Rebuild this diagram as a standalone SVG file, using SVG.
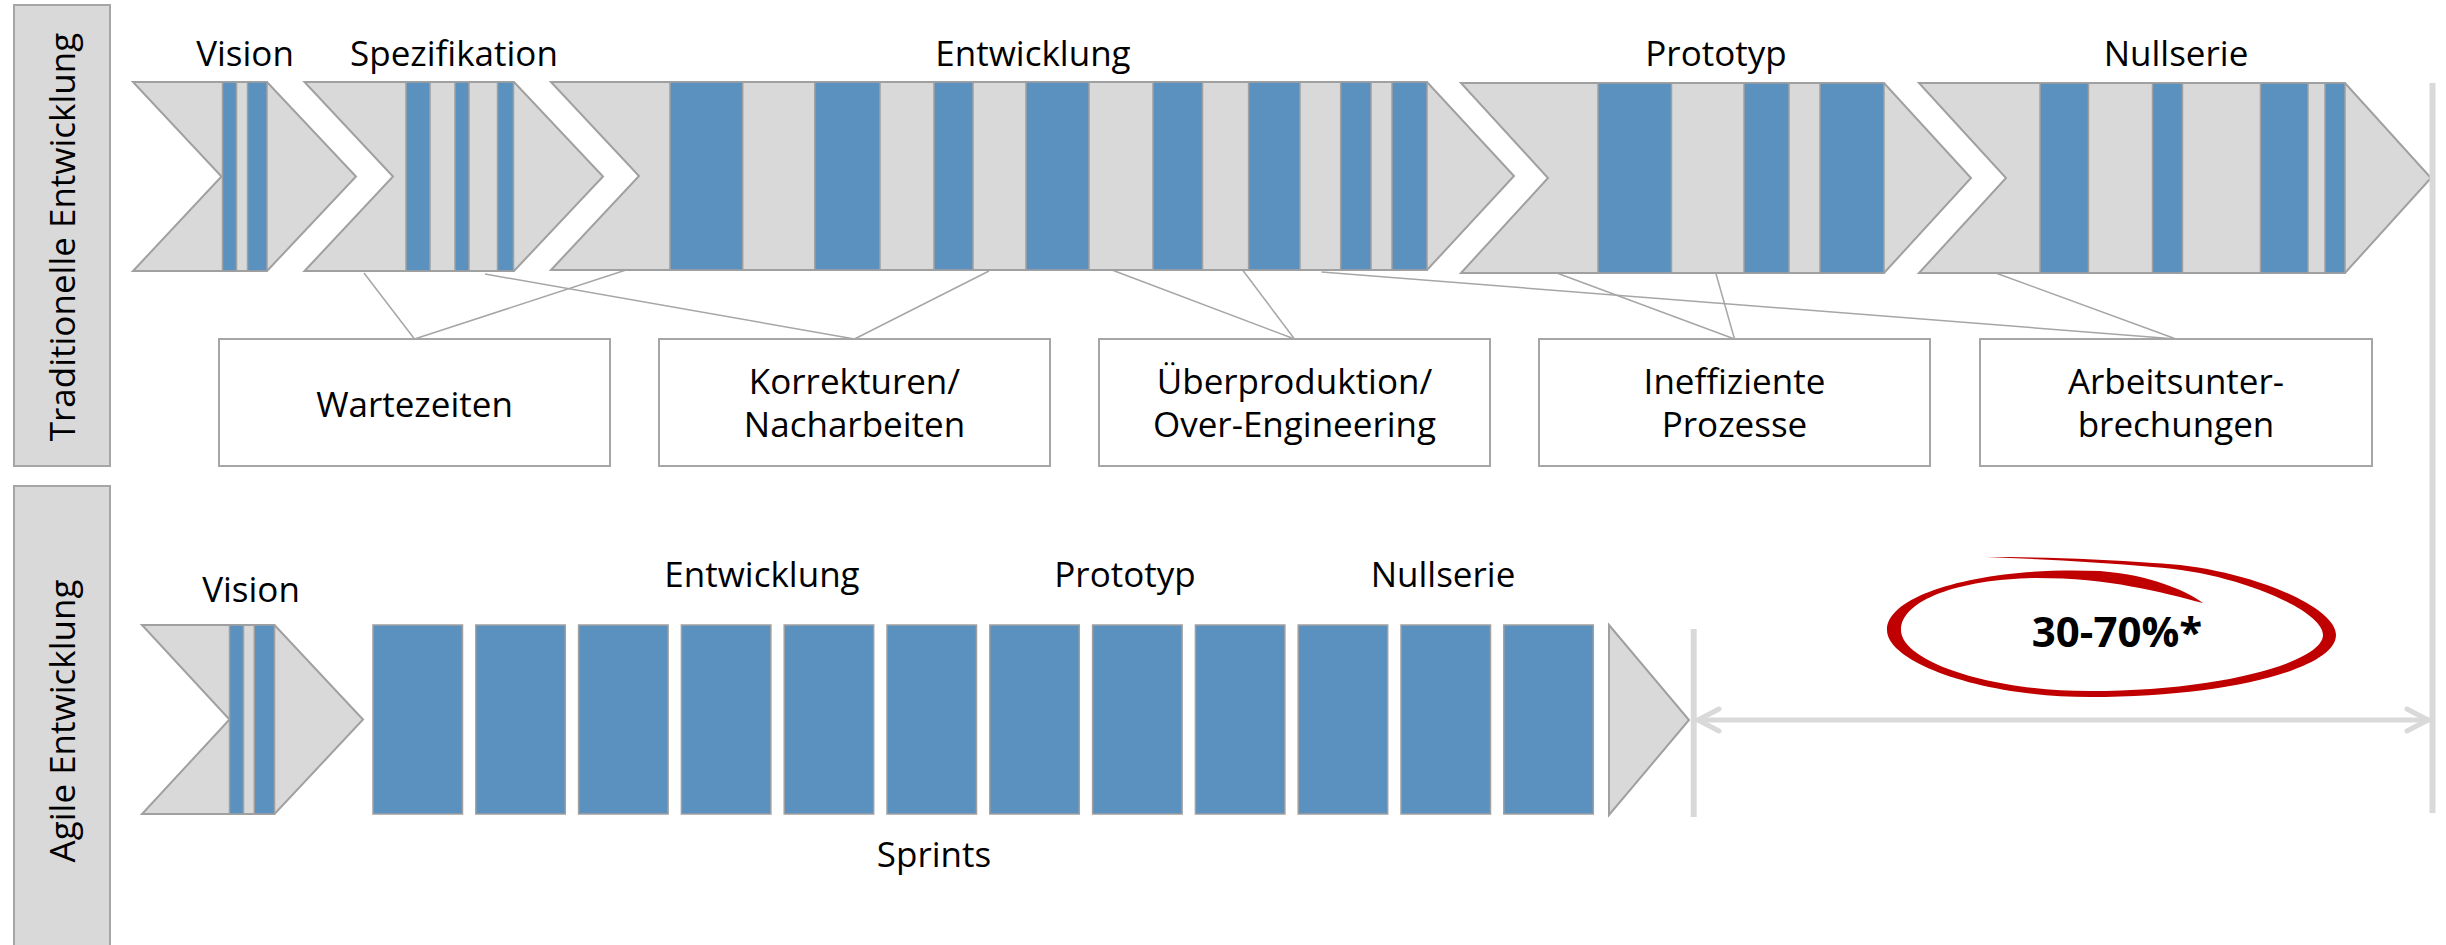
<svg xmlns="http://www.w3.org/2000/svg" width="2446" height="945" viewBox="0 0 2446 945">
<defs>
<style>
.lbl{fill:#d9d9d9;stroke:#a6a6a6;stroke-width:2}
.chev{fill:#d9d9d9;stroke:#a0a0a0;stroke-width:2;stroke-linejoin:miter}
.st{fill:#5b91be;stroke:#a0a0a0;stroke-width:1.5}
.box{fill:#ffffff;stroke:#a6a6a6;stroke-width:2}
.t{font-family:"Open Sans","Segoe UI","Liberation Sans",sans-serif;font-size:35px;fill:#000;text-anchor:middle}
.con{stroke:#a6a6a6;stroke-width:1.5;fill:none}
.vl{stroke:#d9d9d9;stroke-width:6;fill:none}
</style>
<marker id="ah" viewBox="-26 -15 32 30" markerWidth="32" markerHeight="30" refX="0" refY="0" orient="auto-start-reverse" markerUnits="userSpaceOnUse">
<path d="M -21,-11 L 0,0 L -21,11" fill="none" stroke="#d9d9d9" stroke-width="5" stroke-linecap="round" stroke-linejoin="round"/>
</marker>
</defs>

<g id="label-traditionell">
<rect class="lbl" x="14" y="5" width="96" height="461"/>
<text class="t" transform="translate(75,237) rotate(-90)">Traditionelle Entwicklung</text>
</g>
<g id="label-agil">
<rect class="lbl" x="14" y="486" width="96" height="470"/>
<text class="t" transform="translate(75,721) rotate(-90)">Agile Entwicklung</text>
</g>

<g id="connectors">
<line class="con" x1="364" y1="273" x2="414.5" y2="339"/>
<line class="con" x1="626" y1="270" x2="414.5" y2="339"/>
<line class="con" x1="485" y1="274" x2="854.5" y2="339"/>
<line class="con" x1="989" y1="271" x2="854.5" y2="339"/>
<line class="con" x1="1112" y1="270" x2="1294.5" y2="339"/>
<line class="con" x1="1242.6" y1="270" x2="1294.5" y2="339"/>
<line class="con" x1="1321.5" y1="272" x2="2176" y2="339"/>
<line class="con" x1="1556.8" y1="273" x2="1734.5" y2="339"/>
<line class="con" x1="1715.5" y1="272" x2="1734.5" y2="339"/>
<line class="con" x1="1995.7" y1="273" x2="2176" y2="339"/>
</g>

<g id="t-vision">
<polygon class="chev" points="133,82 267,82 356,176.5 267,271 133,271 221.5,176.5"/>
<rect class="st" x="222.5" y="82" width="14" height="189"/>
<rect class="st" x="247.5" y="82" width="19.5" height="189"/>
<text class="t" x="245" y="66">Vision</text>
</g>
<g id="t-spezifikation">
<polygon class="chev" points="304.5,82 514,82 603,176.5 514,271 304.5,271 393,176.5"/>
<rect class="st" x="406" y="82" width="24" height="189"/>
<rect class="st" x="455" y="82" width="14" height="189"/>
<rect class="st" x="497.5" y="82" width="16" height="189"/>
<text class="t" x="454" y="66">Spezifikation</text>
</g>
<g id="t-entwicklung">
<polygon class="chev" points="551,82 1427,82 1514,176 1427,270 551,270 639,176"/>
<rect class="st" x="670" y="82" width="72.7" height="188"/>
<rect class="st" x="814.8" y="82" width="65.2" height="188"/>
<rect class="st" x="934" y="82" width="39" height="188"/>
<rect class="st" x="1026" y="82" width="63" height="188"/>
<rect class="st" x="1153" y="82" width="49.5" height="188"/>
<rect class="st" x="1248.6" y="82" width="51.4" height="188"/>
<rect class="st" x="1340.7" y="82" width="30.3" height="188"/>
<rect class="st" x="1392" y="82" width="35" height="188"/>
<text class="t" x="1033" y="66">Entwicklung</text>
</g>
<g id="t-prototyp">
<polygon class="chev" points="1461,83 1884,83 1971,178 1884,273 1461,273 1548,178"/>
<rect class="st" x="1598" y="83" width="73.5" height="190"/>
<rect class="st" x="1744" y="83" width="45" height="190"/>
<rect class="st" x="1820" y="83" width="64" height="190"/>
<text class="t" x="1716" y="66">Prototyp</text>
</g>
<g id="t-nullserie">
<polygon class="chev" points="1919,83 2345,83 2431,178 2345,273 1919,273 2006,178"/>
<rect class="st" x="2040" y="83" width="48.5" height="190"/>
<rect class="st" x="2152.5" y="83" width="30" height="190"/>
<rect class="st" x="2260.5" y="83" width="47.5" height="190"/>
<rect class="st" x="2325" y="83" width="20" height="190"/>
<text class="t" x="2176" y="66">Nullserie</text>
</g>

<g id="box-wartezeiten">
<rect class="box" x="219" y="339" width="391" height="127"/>
<text class="t" x="414.5" y="417">Wartezeiten</text>
</g>
<g id="box-korrekturen">
<rect class="box" x="659" y="339" width="391" height="127"/>
<text class="t" x="854.5" y="394">Korrekturen/</text>
<text class="t" x="854.5" y="437">Nacharbeiten</text>
</g>
<g id="box-ueberproduktion">
<rect class="box" x="1099" y="339" width="391" height="127"/>
<text class="t" x="1294.5" y="394">Überproduktion/</text>
<text class="t" x="1294.5" y="437">Over-Engineering</text>
</g>
<g id="box-ineffizient">
<rect class="box" x="1539" y="339" width="391" height="127"/>
<text class="t" x="1734.5" y="394">Ineffiziente</text>
<text class="t" x="1734.5" y="437">Prozesse</text>
</g>
<g id="box-unterbrechungen">
<rect class="box" x="1980" y="339" width="392" height="127"/>
<text class="t" x="2176" y="394">Arbeitsunter-</text>
<text class="t" x="2176" y="437">brechungen</text>
</g>

<g id="a-vision">
<polygon class="chev" points="142,625 274.5,625 363,719.5 274.5,814 142,814 229.5,719.5"/>
<rect class="st" x="229.5" y="625" width="14" height="189"/>
<rect class="st" x="254.3" y="625" width="20.2" height="189"/>
<text class="t" x="251" y="602">Vision</text>
</g>
<g id="a-sprints">
<rect class="st" x="373" y="625" width="89.5" height="189"/>
<rect class="st" x="475.8" y="625" width="89.5" height="189"/>
<rect class="st" x="578.6" y="625" width="89.5" height="189"/>
<rect class="st" x="681.4" y="625" width="89.5" height="189"/>
<rect class="st" x="784.2" y="625" width="89.5" height="189"/>
<rect class="st" x="887" y="625" width="89.5" height="189"/>
<rect class="st" x="989.8" y="625" width="89.5" height="189"/>
<rect class="st" x="1092.6" y="625" width="89.5" height="189"/>
<rect class="st" x="1195.4" y="625" width="89.5" height="189"/>
<rect class="st" x="1298.2" y="625" width="89.5" height="189"/>
<rect class="st" x="1401" y="625" width="89.5" height="189"/>
<rect class="st" x="1503.8" y="625" width="89.5" height="189"/>
<polygon class="chev" points="1609,625 1689,720 1609,815"/>
<text class="t" x="762" y="587">Entwicklung</text>
<text class="t" x="1125" y="587">Prototyp</text>
<text class="t" x="1443" y="587">Nullserie</text>
<text class="t" x="934" y="867">Sprints</text>
</g>

<g id="savings">
<line class="vl" x1="1693.7" y1="629" x2="1693.7" y2="817"/>
<line class="vl" x1="2432.5" y1="83" x2="2432.5" y2="813"/>
<line x1="1698" y1="720" x2="2428" y2="720" stroke="#d9d9d9" stroke-width="5" stroke-linecap="round" marker-start="url(#ah)" marker-end="url(#ah)"/>
<path fill="#c00000" d="M 2203,603 C 2185,590 2150,575 2100,571 C 1990,566 1887,592 1887,630 C 1887,662 1980,697 2090,697 C 2226,697 2336,669 2336,635 C 2336,605 2240,566 2153,563 C 2100,559 2040,557 1987,557 C 2040,559 2100,562 2153,567 C 2235,572 2323,610 2323,635 C 2323,662 2220,691 2090,691 C 1985,691 1901,660 1901,630 C 1901,600 1960,579 2036,578 C 2110,578 2160,592 2203,603 Z"/>
<text x="2117" y="647" style="font-family:'Open Sans','Segoe UI','Liberation Sans',sans-serif;font-size:42px;font-weight:bold;text-anchor:middle;fill:#000">30-70%*</text>
</g>
</svg>
